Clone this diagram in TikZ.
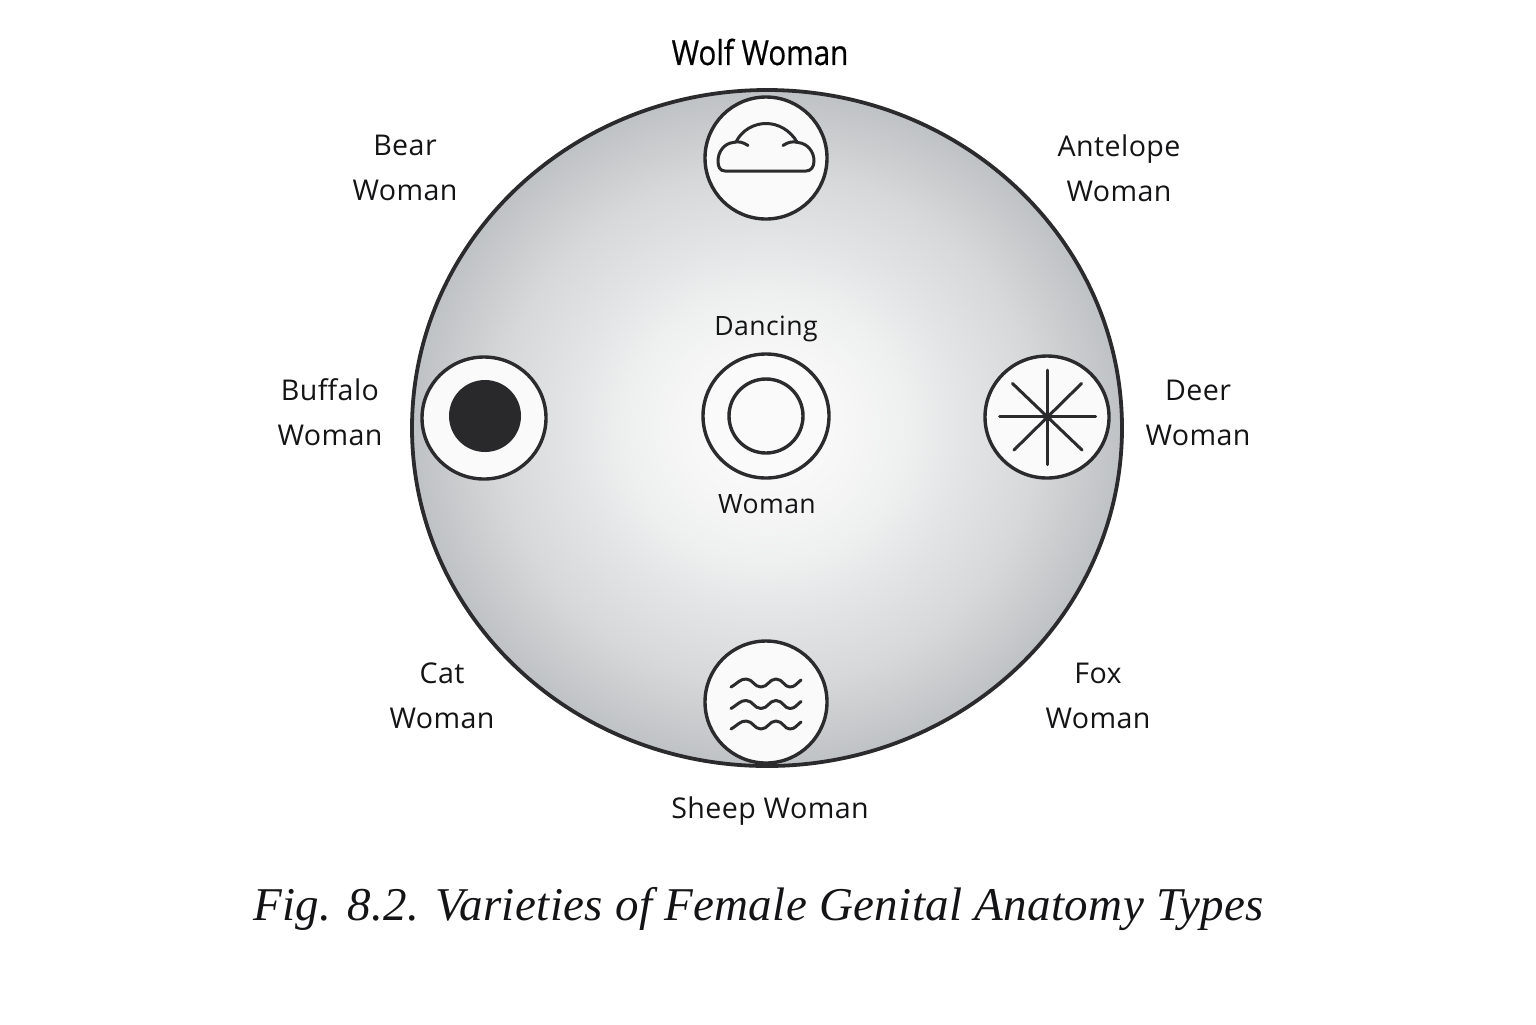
\documentclass[tikz,border=0pt]{standalone}
\usepackage{fontspec}
\setmainfont{Open Sans}
\newfontfamily\lab[LetterSpace=1.5]{Open Sans}
\newfontfamily\wolf[FakeStretch=0.86,FakeBold=0.5]{Open Sans}
\newfontfamily\capt[LetterSpace=0.8]{Liberation Serif}
\definecolor{ink}{HTML}{2B2B2D}
\definecolor{tx}{HTML}{141416}
\definecolor{g0}{HTML}{FAFAFA}
\definecolor{g1}{HTML}{F6F6F6}
\definecolor{g2}{HTML}{EEEFEF}
\definecolor{g3}{HTML}{E3E4E5}
\definecolor{g4}{HTML}{D6D8D9}
\definecolor{g5}{HTML}{BFC2C4}
\pgfdeclareradialshading{discshade}{\pgfpoint{0bp}{0bp}}{%
 color(0bp)=(g0);color(2.5bp)=(g0);color(6bp)=(g1);color(10bp)=(g2);color(14bp)=(g3);color(19bp)=(g4);color(25bp)=(g5);color(50bp)=(g5)}
\tikzset{
 x=0.5pt,y=-0.5pt,
 lbl/.style={font={\fontsize{14.3}{22.5}\selectfont\lab},text=tx,align=center,inner sep=0pt},
 lblc/.style={font={\fontsize{13.3}{20}\selectfont\lab},text=tx,align=center,inner sep=0pt},
 glyph/.style={draw=ink,line width=1.5pt,line cap=round,line join=round},
}
\begin{document}
\begin{tikzpicture}
\useasboundingbox (0,0) rectangle (1536,1024);
\shade[shading=discshade] (767,428) ellipse [x radius=355,y radius=338];
\draw[ink,line width=1.9pt] (767,428) ellipse [x radius=355,y radius=338];
% symbol discs
\foreach \nm/\cx/\cy/\rx/\ry in {top/766/158/61/61,left/484/418/62/61,mid/766/416/63/62,right/1047/417/62/61,bot/766/702/61/61}{
 \filldraw[draw=ink,line width=1.7pt,fill=white!98!black] (\cx,\cy) ellipse [x radius=\rx,y radius=\ry];
}
% cloud
\draw[glyph] (748,145.5) .. controls (743,142) and (738,141) .. (733,142.5) .. controls (724,143.5) and (718,152) .. (718,161) .. controls (718,167) and (720,171) .. (725,171) -- (806,171) .. controls (811,171) and (814,167) .. (814,161) .. controls (814,152) and (808,143.5) .. (798,142.5) .. controls (793,141) and (788,142) .. (783,145.5);
\draw[glyph] (736,142) .. controls (742,130) and (754,123.5) .. (766,123.5) .. controls (778,123.5) and (790,130) .. (797,142);
% dark disc
\fill[ink!95!black] (485,416) circle [radius=36];
% centre ring
\draw[ink,line width=1.7pt] (766,416) circle [radius=37];
% star
\foreach \a/\b/\c/\d in {1047.5/370/1047.5/464.5,999.5/416.5/1095.5/416.5,1012.5/383.5/1082/450,1081.5/383.5/1014/450}{
 \draw[glyph] (\a,\b) -- (\c,\d);
}
\fill[ink] (1047.5,417) circle [radius=4.5];
% waves
\foreach \yy in {683,704.5,725}{
 \begin{scope}[shift={(0,\yy)}]
 \draw[glyph] (731,4) .. controls (738,0) and (740,-4) .. (746,-4) .. controls (753,-4) and (754,4) .. (761,4) .. controls (768,4) and (769,-4) .. (776,-4) .. controls (783,-4) and (784,4) .. (790,4) .. controls (795,4) and (797,0) .. (801,-3);
 \end{scope}
}
% labels
\node[font={\fontsize{17.2}{20}\selectfont\wolf},text=black,inner sep=0pt] (wolf) at (760,52) {Wolf Woman};
\node[lbl] (bear) at (405,168) {Bear\\Woman};
\node[lbl] (antelope) at (1119,168) {Antelope\\Woman};
\node[lbl] (buffalo) at (330,412) {Buffalo\\Woman};
\node[lbl] (deer) at (1198,412.5) {Deer\\Woman};
\node[lbl] (cat) at (442,696) {Cat\\Woman};
\node[lbl] (fox) at (1098,696) {Fox\\Woman};
\node[lblc] (danc) at (766,329) {Dancing};
\node[lblc] (wom) at (767,504) {Woman};
\node[lbl] (sheep) at (770,811) {Sheep Woman};
\node[font={\fontsize{23.5}{28}\selectfont\capt\itshape},text=tx,inner sep=0pt] (cap) at (758.5,909) {Fig. 8.2. Varieties of Female Genital Anatomy Types};
\end{tikzpicture}
\end{document}
